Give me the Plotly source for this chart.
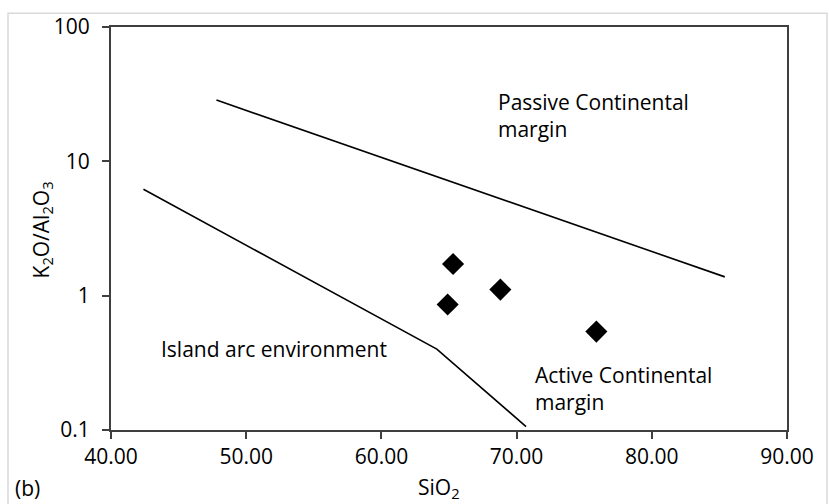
import plotly.graph_objects as go

# Sample data (diamonds)
sio2 = [65.3, 64.9, 68.8, 75.9]
k2o_al2o3 = [1.72, 0.86, 1.11, 0.54]

# Boundary lines
upper_x = [47.8, 85.4]
upper_y = [28.6, 1.38]
lower_x = [42.4, 64.1, 70.7]
lower_y = [6.2, 0.40, 0.106]

x_ticks = [40, 50, 60, 70, 80, 90]
y_ticks = [0.1, 1, 10, 100]
y_ticklabels = ["0.1", "1", "10", "100"]

FONT = "Open Sans"
axis_color = "#3f3f3f"

fig = go.Figure()
fig.add_trace(go.Scatter(x=upper_x, y=upper_y, mode="lines",
                         line=dict(color="black", width=1.6), hoverinfo="skip"))
fig.add_trace(go.Scatter(x=lower_x, y=lower_y, mode="lines",
                         line=dict(color="black", width=1.6), hoverinfo="skip"))
fig.add_trace(go.Scatter(x=sio2, y=k2o_al2o3, mode="markers",
                         marker=dict(symbol="diamond", size=17, color="black")))

fig.update_xaxes(range=[40, 90], tickvals=x_ticks, tickformat=".2f",
                 showline=True, linecolor=axis_color, linewidth=2, mirror=True,
                 ticks="outside", ticklen=7, tickcolor=axis_color, tickwidth=1.5,
                 showgrid=False, zeroline=False,
                 tickfont=dict(family=FONT, size=21, color="black"))
fig.update_yaxes(type="log", range=[-1, 2], tickvals=y_ticks, ticktext=y_ticklabels,
                 showline=True, linecolor=axis_color, linewidth=2, mirror=True,
                 ticks="outside", ticklen=7, tickcolor=axis_color, tickwidth=1.5,
                 showgrid=False, zeroline=False, ticklabelstandoff=8,
                 tickfont=dict(family=FONT, size=21, color="black"))

ann_font = dict(family=FONT, size=21, color="black")
fig.update_layout(
    width=829, height=504,
    margin=dict(l=111, r=42, t=22, b=74),
    plot_bgcolor="white", paper_bgcolor="white",
    showlegend=False,
    annotations=[
        dict(x=68.48, y=1.338, xref="x", yref="y", text="Passive Continental<br>margin",
             showarrow=False, xanchor="left", yanchor="middle", align="left", font=ann_font),
        dict(x=71.22, y=-0.6875, xref="x", yref="y", text="Active Continental<br>margin",
             showarrow=False, xanchor="left", yanchor="middle", align="left", font=ann_font),
        dict(x=43.52, y=-0.397, xref="x", yref="y", text="Island arc environment",
             showarrow=False, xanchor="left", yanchor="middle", align="left", font=ann_font),
        dict(x=(439 - 111) / 676, y=-(489 - 430) / 408, xref="paper", yref="paper",
             text="SiO<sub>2</sub>", showarrow=False, xanchor="center", yanchor="middle",
             font=ann_font),
        dict(x=(42 - 111) / 676, y=(430 - 228) / 408, xref="paper", yref="paper",
             text="K<sub>2</sub>O/Al<sub>2</sub>O<sub>3</sub>", showarrow=False,
             textangle=-90, xanchor="center", yanchor="middle", font=ann_font),
        dict(x=(13 - 111) / 676, y=-(489 - 430) / 408, xref="paper", yref="paper",
             text="(b)", showarrow=False, xanchor="left", yanchor="middle", font=ann_font),
    ],
    shapes=[
        dict(type="rect", xref="paper", yref="paper",
             x0=(8 - 111) / 676, x1=(827 - 111) / 676,
             y0=-(520 - 430) / 408, y1=(430 - 8) / 408,
             line=dict(color="#d9d9d9", width=1.5), fillcolor="rgba(0,0,0,0)", layer="below"),
    ],
)

fig.write_html("out.html")
